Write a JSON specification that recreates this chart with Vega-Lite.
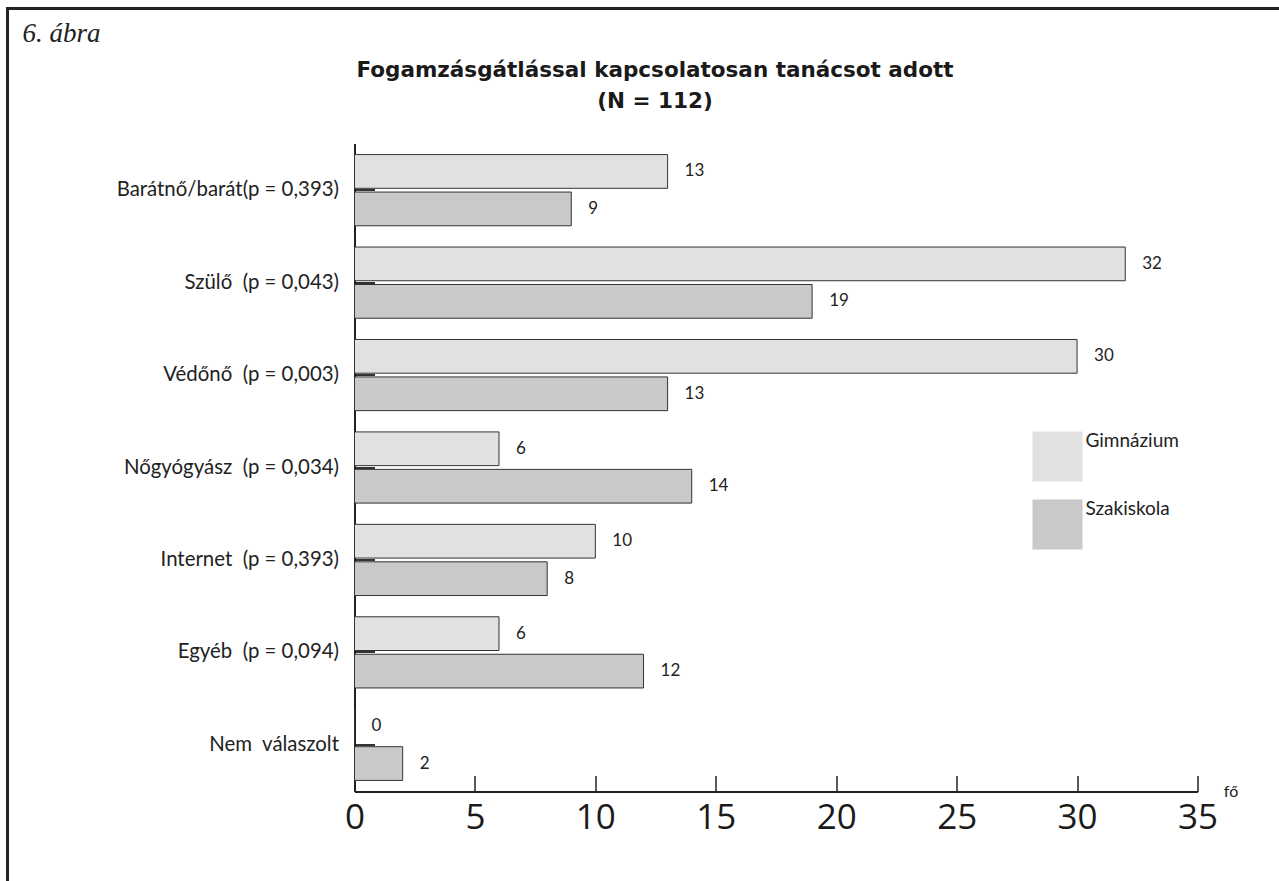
{
  "$schema": "https://vega.github.io/schema/vega-lite/v6.json",
  "padding": {"left": 5.5, "top": 6.5, "right": 0, "bottom": 0},
  "background": "white",
  "config": {"view": {"stroke": null}, "axis": {"grid": false}},
  "columns": 2,
  "align": "none",
  "bounds": "flush",
  "center": false,
  "spacing": -928,
  "concat": [
    {
      "width": 1275,
      "height": 875,
      "view": {"stroke": "#222", "strokeWidth": 3},
      "title": {"text": "6. ábra", "font": "Liberation Serif", "fontStyle": "italic", "fontSize": 27, "fontWeight": "normal", "color": "#222", "anchor": "start", "frame": "group", "dx": 15, "offset": -39},
      "data": {"values": []},
      "mark": "point",
      "encoding": {}
    },
    {
      "spacing": 0,
      "bounds": "flush",
      "vconcat": [
        {
          "width": 1,
          "height": 135,
          "view": {"stroke": null},
          "data": {"values": []},
          "mark": "point",
          "encoding": {}
        },
        {
          "width": 843,
          "height": 648,
          "view": {"stroke": null},
          "title": {"text": ["Fogamzásgátlással kapcsolatosan tanácsot adott", "(N = 112)"], "font": "DejaVu Sans", "fontSize": 21.5, "fontWeight": "bold", "color": "#1a1a1a", "anchor": "middle", "frame": "group", "dx": -121, "offset": 31, "lineHeight": 31},
          "data": {"values": [
            {"kategoria": "Barátnő/barát(p = 0,393)", "iskola": "Gimnázium", "fo": 13},
            {"kategoria": "Barátnő/barát(p = 0,393)", "iskola": "Szakiskola", "fo": 9},
            {"kategoria": "Szülő\u00a0 (p = 0,043)", "iskola": "Gimnázium", "fo": 32},
            {"kategoria": "Szülő\u00a0 (p = 0,043)", "iskola": "Szakiskola", "fo": 19},
            {"kategoria": "Védőnő\u00a0 (p = 0,003)", "iskola": "Gimnázium", "fo": 30},
            {"kategoria": "Védőnő\u00a0 (p = 0,003)", "iskola": "Szakiskola", "fo": 13},
            {"kategoria": "Nőgyógyász\u00a0 (p = 0,034)", "iskola": "Gimnázium", "fo": 6},
            {"kategoria": "Nőgyógyász\u00a0 (p = 0,034)", "iskola": "Szakiskola", "fo": 14},
            {"kategoria": "Internet\u00a0 (p = 0,393)", "iskola": "Gimnázium", "fo": 10},
            {"kategoria": "Internet\u00a0 (p = 0,393)", "iskola": "Szakiskola", "fo": 8},
            {"kategoria": "Egyéb\u00a0 (p = 0,094)", "iskola": "Gimnázium", "fo": 6},
            {"kategoria": "Egyéb\u00a0 (p = 0,094)", "iskola": "Szakiskola", "fo": 12},
            {"kategoria": "Nem\u00a0 válaszolt", "iskola": "Gimnázium", "fo": 0},
            {"kategoria": "Nem\u00a0 válaszolt", "iskola": "Szakiskola", "fo": 2}
          ]},
          "encoding": {
            "y": {
              "field": "kategoria", "type": "nominal", "sort": null,
              "scale": {"paddingInner": 0.23, "paddingOuter": 0.12},
              "axis": {"title": null, "domain": true, "domainColor": "#222", "domainWidth": 2, "ticks": true, "tickSize": -20, "tickColor": "#333", "tickWidth": 2, "labelFont": "Lato", "labelFontSize": 20.4, "labelColor": "#222", "labelPadding": 36, "labelLimit": 400}
            },
            "yOffset": {"field": "iskola", "type": "nominal", "sort": ["Gimnázium", "Szakiskola"], "scale": {"paddingInner": 0.1, "paddingOuter": 0}},
            "x": {
              "field": "fo", "type": "quantitative",
              "scale": {"domain": [0, 35], "nice": false},
              "axis": {"values": [0, 5, 10, 15, 20, 25, 30, 35], "title": "fő", "titleX": 876, "titleY": 5, "titleAlign": "center", "titleBaseline": "alphabetic", "titleFont": "Lato", "titleFontSize": 16, "titleFontWeight": "normal", "titleColor": "#222", "domainColor": "#222", "domainWidth": 2, "tickSize": -16, "tickColor": "#222", "tickWidth": 1.5, "labelFont": "Open Sans", "labelFontSize": 35, "labelColor": "#1a1a1a", "labelPadding": 25, "labelFlush": false, "labelOverlap": false}
            }
          },
          "layer": [
            {
              "mark": {"type": "bar", "stroke": "#333", "strokeWidth": 1},
              "encoding": {
                "color": {
                  "field": "iskola", "type": "nominal",
                  "scale": {"domain": ["Gimnázium", "Szakiskola"], "range": ["#e1e1e3", "#c9c9ca"]},
                  "legend": {"orient": "none", "legendX": 1025, "legendY": 423, "title": null, "symbolType": "square", "symbolSize": 2500, "symbolStrokeWidth": 0, "symbolStrokeColor": "transparent", "labelFont": "Lato", "labelFontSize": 19, "labelColor": "#222", "labelBaseline": "bottom", "labelOffset": 3, "rowPadding": 18, "padding": 0, "encode": {"labels": {"update": {"dy": {"value": -6}}}}}
                }
              }
            },
            {
              "mark": {"type": "text", "align": "left", "baseline": "middle", "dx": 17, "font": "Lato", "fontSize": 17, "color": "#222"},
              "encoding": {"text": {"field": "fo", "type": "quantitative"}}
            }
          ]
        }
      ]
    }
  ]
}
